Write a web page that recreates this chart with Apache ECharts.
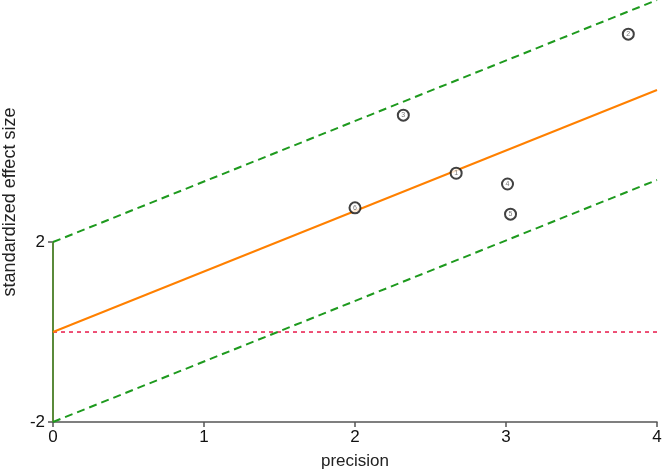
<!DOCTYPE html>
<html><head><meta charset="utf-8">
<script src="https://cdn.jsdelivr.net/npm/echarts@6/dist/echarts.min.js"></script>
<style>html,body{margin:0;padding:0;background:#fff}#c{width:666px;height:470px}</style>
</head><body><div id="c"></div>
<script>
// Study labels, precision (x) and standardized effect size (y)
var studyLabels = ['1', '2', '3', '4', '5', '6'];
var precision = [2.67, 3.81, 2.32, 3.01, 3.03, 2.00];
var effectSize = [3.53, 6.62, 4.82, 3.29, 2.62, 2.76];
// Regression line through origin and ±2 bands
var slope = 1.345;
var xEnd = 4;
var xTicks = [0, 1, 2, 3, 4];
var yTicks = [-2, 2];

var chart = echarts.init(document.getElementById('c'));
var pts = precision.map(function (x, i) { return [x, effectSize[i], studyLabels[i]]; });
chart.setOption({
  animation: false,
  grid: { left: 53, right: 9, top: 0, bottom: 48, outerBoundsMode: 'none', containLabel: false },
  xAxis: {
    type: 'value', min: 0, max: 4, interval: 1,
    name: 'precision', nameLocation: 'middle', nameGap: 31,
    nameTextStyle: { fontFamily: 'Liberation Sans', fontSize: 17, color: '#222' },
    axisLine: { show: true, onZero: false, lineStyle: { color: '#555', width: 1.5 } },
    axisTick: { show: true, length: 5, lineStyle: { color: '#555', width: 1.5 } },
    axisLabel: { fontFamily: 'Liberation Sans', fontSize: 17, color: '#111', margin: 7 },
    splitLine: { show: false }
  },
  yAxis: {
    type: 'value', min: -2, max: 7.38,
    name: 'standardized effect size', nameLocation: 'middle', nameGap: 30,
    nameTextStyle: { fontFamily: 'Liberation Sans', fontSize: 18, color: '#222', padding: [0, 0, 0, 18] },
    nameRotate: 90,
    axisLine: { show: false, onZero: false },
    axisTick: { show: true, customValues: yTicks, length: 5, lineStyle: { color: '#555', width: 1.5 } },
    axisLabel: { customValues: yTicks, fontFamily: 'Liberation Sans', fontSize: 17, color: '#111', margin: 8 },
    splitLine: { show: false }
  },
  series: [
    { type: 'line', data: [[0, -2], [0, 2]], symbol: 'none', lineStyle: { color: '#5a8a3a', width: 2 }, silent: true },
    { type: 'line', data: [[0, 0], [xEnd, 0]], symbol: 'none', lineStyle: { color: '#e8194a', width: 1.5, type: [4, 4] }, silent: true },
    { type: 'line', data: [[0, 0], [xEnd, slope * xEnd]], symbol: 'none', lineStyle: { color: '#ff8000', width: 2 }, silent: true },
    { type: 'line', data: [[0, 2], [xEnd, 2 + slope * xEnd]], symbol: 'none', lineStyle: { color: '#1e9a1e', width: 2, type: [8, 5] }, silent: true },
    { type: 'line', data: [[0, -2], [xEnd, -2 + slope * xEnd]], symbol: 'none', lineStyle: { color: '#1e9a1e', width: 2, type: [8, 5] }, silent: true },
    {
      type: 'scatter', data: pts, symbol: 'circle', symbolSize: 11,
      itemStyle: { color: '#fff', borderColor: '#111', borderWidth: 2 },
      label: { show: true, position: 'inside', formatter: function (p) { return p.data[2]; }, fontSize: 7, color: '#555', fontFamily: 'Liberation Sans' },
      z: 10
    }
  ]
});
</script></body></html>
